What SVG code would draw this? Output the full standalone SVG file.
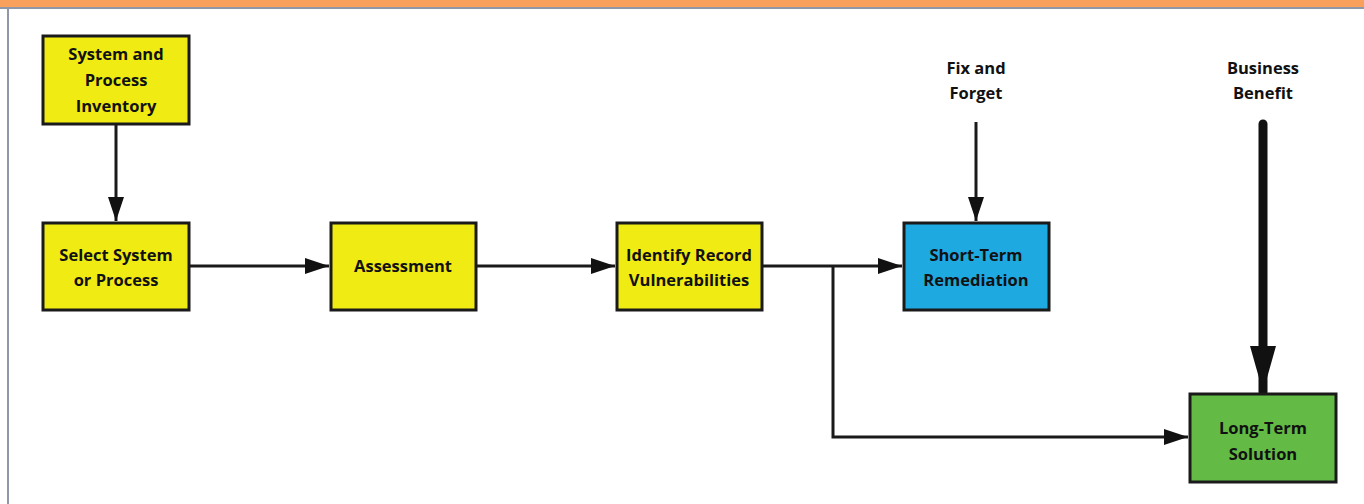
<svg xmlns="http://www.w3.org/2000/svg" width="1364" height="504" viewBox="0 0 1364 504">
<style>
.node rect{stroke:#1a1a1a;stroke-width:3}
.y{fill:#f0eb12}
.b{fill:#1ea9e1}
.g{fill:#63bb45}
text{font-family:"Open Sans","Noto Sans",sans-serif;font-weight:bold;font-size:16.5px;fill:#111;text-anchor:middle}
.c{fill:none;stroke:#1a1a1a;stroke-width:3}
</style>
<defs>
<marker id="ah" markerUnits="userSpaceOnUse" markerWidth="24" markerHeight="18" refX="24" refY="9" orient="auto">
<path d="M0,1 L24,9 L0,17 Z" fill="#111"/>
</marker>
<marker id="ahs" markerUnits="userSpaceOnUse" markerWidth="24" markerHeight="18" refX="24" refY="9" orient="auto">
<path d="M0,1 L24,9 L0,17 Z" fill="#111"/>
</marker>
<marker id="ahb" markerUnits="userSpaceOnUse" markerWidth="46" markerHeight="28" refX="46" refY="14" orient="auto">
<path d="M0,1 L46,14 L0,27 Z" fill="#111"/>
</marker>
</defs>
<rect x="0" y="0" width="1364" height="504" fill="#fff"/>
<rect x="0" y="0" width="1364" height="7" fill="#f8a05c"/>
<rect x="0" y="7" width="1364" height="2" fill="#9098a8"/>
<rect x="7" y="9" width="2" height="495" fill="#9098a8"/>

<g id="connectors">
<line class="c" x1="116" y1="124" x2="116" y2="221" marker-end="url(#ah)"/>
<line class="c" x1="189" y1="266" x2="329" y2="266" marker-end="url(#ah)"/>
<line class="c" x1="476" y1="266" x2="615" y2="266" marker-end="url(#ah)"/>
<line class="c" x1="762" y1="266" x2="902" y2="266" marker-end="url(#ah)"/>
<polyline class="c" points="833,266 833,437 1188,437" marker-end="url(#ah)"/>
<line class="c" x1="976" y1="122" x2="976" y2="221" stroke-width="2" marker-end="url(#ahs)"/>
<line x1="1263" y1="124" x2="1263" y2="392" stroke="#111" stroke-width="9" stroke-linecap="round" marker-end="url(#ahb)"/>
</g>

<g id="n-inventory" class="node">
<rect class="y" x="43" y="36" width="146" height="88"/>
<text x="116" y="60">System and</text>
<text x="116" y="86">Process</text>
<text x="116" y="112">Inventory</text>
</g>
<g id="n-select" class="node">
<rect class="y" x="43" y="223" width="146" height="87"/>
<text x="116" y="261">Select System</text>
<text x="116" y="286">or Process</text>
</g>
<g id="n-assessment" class="node">
<rect class="y" x="331" y="223" width="145" height="87"/>
<text x="403" y="272">Assessment</text>
</g>
<g id="n-identify" class="node">
<rect class="y" x="617" y="223" width="145" height="87"/>
<text x="689" y="261">Identify Record</text>
<text x="689" y="286">Vulnerabilities</text>
</g>
<g id="n-short" class="node">
<rect class="b" x="904" y="223" width="145" height="87"/>
<text x="976" y="261">Short-Term</text>
<text x="976" y="286">Remediation</text>
</g>
<g id="n-long" class="node">
<rect class="g" x="1190" y="394" width="146" height="88"/>
<text x="1263" y="434">Long-Term</text>
<text x="1263" y="460">Solution</text>
</g>
<g id="l-fix">
<text x="976" y="74">Fix and</text>
<text x="976" y="99">Forget</text>
</g>
<g id="l-business">
<text x="1263" y="74">Business</text>
<text x="1263" y="99">Benefit</text>
</g>
</svg>
